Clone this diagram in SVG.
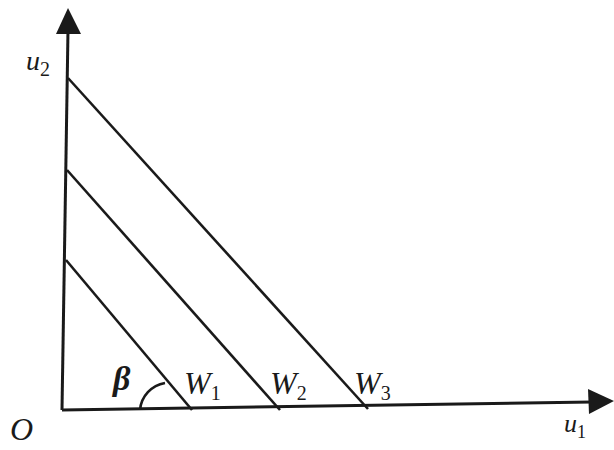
<svg xmlns="http://www.w3.org/2000/svg" width="614" height="450" viewBox="0 0 614 450">
<defs>
<style>
.ax{stroke:#1a1a1a;stroke-width:3;fill:none}
.ln{stroke:#1a1a1a;stroke-width:2.6;fill:none}
.t{font-family:"Liberation Serif","Times New Roman",serif;font-style:italic;fill:#1a1a1a}
</style>
</defs>
<rect width="614" height="450" fill="#fff"/>
<g id="connectors">
<path class="ax" d="M62,410 L68,30"/>
<polygon points="68,8 56,34 81,34" fill="#1a1a1a"/>
<path class="ax" d="M62,410 L592,402"/>
<polygon points="614,401 588,389 589,414" fill="#1a1a1a"/>
<path class="ln" d="M66,260 L192,410"/>
<path class="ln" d="M67,170 L280,410"/>
<path class="ln" d="M68,78 L368,409"/>
<path class="ln" d="M140,410 A30,30 0 0 1 165,383" stroke-width="2"/>
</g>
<g id="labels">
<text class="t" x="26" y="70" font-size="28">u<tspan font-size="20" dy="6" font-style="normal">2</tspan></text>
<text class="t" x="10" y="440" font-size="32">O</text>
<text class="t" x="564" y="432" font-size="26">u<tspan font-size="18" dy="6" font-style="normal">1</tspan></text>
<text class="t" x="113" y="390" font-size="34" font-weight="bold">β</text>
<text class="t" x="184" y="394" font-size="32">W<tspan font-size="20" dy="6" font-style="normal">1</tspan></text>
<text class="t" x="270" y="394" font-size="32">W<tspan font-size="20" dy="6" font-style="normal">2</tspan></text>
<text class="t" x="354" y="394" font-size="32">W<tspan font-size="20" dy="6" font-style="normal">3</tspan></text>
</g>
</svg>
